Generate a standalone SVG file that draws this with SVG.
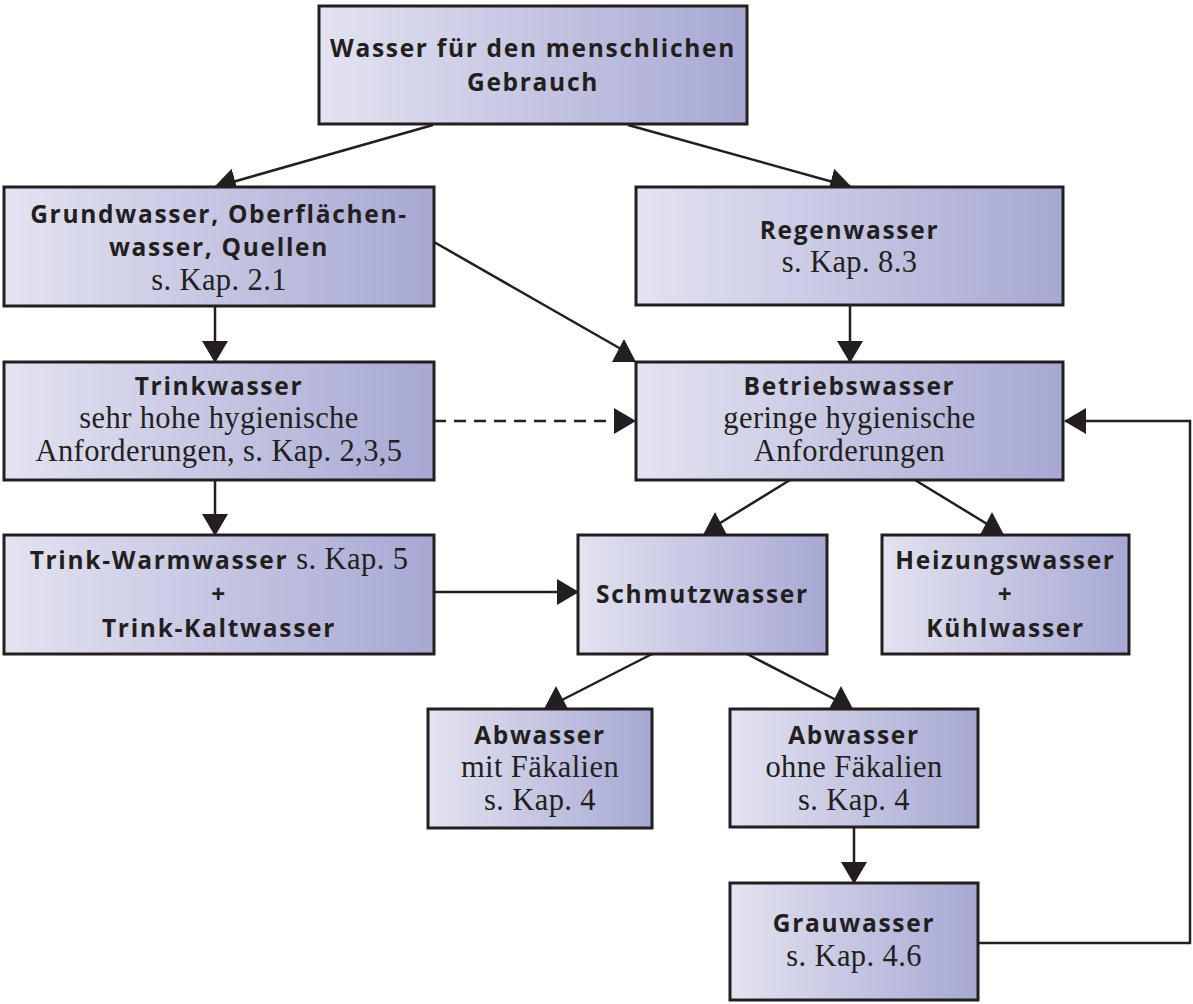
<svg xmlns="http://www.w3.org/2000/svg" xmlns:xlink="http://www.w3.org/1999/xlink" width="1193" height="1004" viewBox="0 0 1193 1004">
<style>
.box{fill:url(#g);stroke:#231f20;stroke-width:3}
.b{font-family:"Open Sans","Liberation Sans",sans-serif;font-weight:bold;font-size:24.5px;letter-spacing:1.7px;fill:#231f20;text-anchor:middle}
.s{font-family:"Liberation Serif",serif;font-weight:normal;font-size:30.5px;letter-spacing:0.4px;fill:#231f20;text-anchor:middle}
.c{fill:none;stroke:#231f20;stroke-width:2.5}
.d{stroke-dasharray:12 8}
.h{fill:#231f20}
</style>
<defs>
<linearGradient id="g" x1="0" y1="0" x2="1" y2="0">
<stop offset="0" stop-color="#e3e3f1"/>
<stop offset="1" stop-color="#a7a8d3"/>
</linearGradient>
<marker id="a" viewBox="0 0 22 26" refX="21" refY="13" markerWidth="22" markerHeight="26" markerUnits="userSpaceOnUse" orient="auto">
<path d="M0,0 L22,13 L0,26 Z" fill="#231f20"/>
</marker>
<path id="delta" d="M0,-23 L12,0 L-12,0 Z"/>
</defs>
<g id="connectors">
<line class="c" x1="433" y1="125" x2="215" y2="187" marker-end="url(#a)"/>
<line class="c" x1="628" y1="125" x2="851" y2="187" marker-end="url(#a)"/>
<line class="c" x1="434" y1="242" x2="621" y2="349"/>
<use class="h" xlink:href="#delta" x="624" y="362"/>
<line class="c" x1="215" y1="306" x2="215" y2="362" marker-end="url(#a)"/>
<line class="c" x1="850" y1="305" x2="850" y2="362" marker-end="url(#a)"/>
<line class="c d" x1="434" y1="421" x2="620" y2="421"/>
<path class="h" d="M614,408 L636,421 L614,434 Z"/>
<line class="c" x1="215" y1="480" x2="215" y2="535" marker-end="url(#a)"/>
<line class="c" x1="790" y1="480" x2="712" y2="528"/>
<use class="h" xlink:href="#delta" x="715" y="535"/>
<line class="c" x1="915" y1="480" x2="992" y2="527"/>
<use class="h" xlink:href="#delta" x="992" y="535"/>
<line class="c" x1="434" y1="592" x2="578" y2="592" marker-end="url(#a)"/>
<line class="c" x1="652" y1="654" x2="558" y2="702"/>
<use class="h" xlink:href="#delta" x="556" y="709"/>
<line class="c" x1="747" y1="654" x2="840" y2="702"/>
<use class="h" xlink:href="#delta" x="841" y="709"/>
<line class="c" x1="854" y1="827" x2="854" y2="883" marker-end="url(#a)"/>
<polyline class="c" points="978,943 1190,943 1190,421 1065,421" marker-end="url(#a)"/>
</g>
<g id="n-top">
<rect class="box" x="319" y="6" width="428" height="118"/>
<text class="b" x="533" y="57">Wasser für den menschlichen</text>
<text class="b" x="533" y="91">Gebrauch</text>
</g>
<g id="n-grund">
<rect class="box" x="4" y="187" width="430" height="119"/>
<text class="b" x="219" y="223">Grundwasser, Oberflächen-</text>
<text class="b" x="219" y="256">wasser, Quellen</text>
<text class="s" x="219" y="290">s. Kap. 2.1</text>
</g>
<g id="n-regen">
<rect class="box" x="636" y="187" width="427" height="118"/>
<text class="b" x="849.5" y="239">Regenwasser</text>
<text class="s" x="849.5" y="272">s. Kap. 8.3</text>
</g>
<g id="n-trink">
<rect class="box" x="4" y="362" width="430" height="118"/>
<text class="b" x="219" y="395">Trinkwasser</text>
<text class="s" x="219" y="428">sehr hohe hygienische</text>
<text class="s" x="219" y="461">Anforderungen, s. Kap. 2,3,5</text>
</g>
<g id="n-betrieb">
<rect class="box" x="636" y="362" width="427" height="118"/>
<text class="b" x="849.5" y="395">Betriebswasser</text>
<text class="s" x="849.5" y="428">geringe hygienische</text>
<text class="s" x="849.5" y="461">Anforderungen</text>
</g>
<g id="n-tww">
<rect class="box" x="4" y="535" width="430" height="119"/>
<text class="b" x="219" y="569">Trink-Warmwasser <tspan class="s" style="text-anchor:start">s. Kap. 5</tspan></text>
<text class="b" x="219" y="603">+</text>
<text class="b" x="219" y="637">Trink-Kaltwasser</text>
</g>
<g id="n-schmutz">
<rect class="box" x="578" y="535" width="249" height="119"/>
<text class="b" x="702.5" y="603">Schmutzwasser</text>
</g>
<g id="n-heiz">
<rect class="box" x="882" y="535" width="247" height="119"/>
<text class="b" x="1005.5" y="569">Heizungswasser</text>
<text class="b" x="1005.5" y="603">+</text>
<text class="b" x="1005.5" y="637">Kühlwasser</text>
</g>
<g id="n-abw-mit">
<rect class="box" x="428" y="709" width="224" height="119"/>
<text class="b" x="540" y="744">Abwasser</text>
<text class="s" x="540" y="777">mit Fäkalien</text>
<text class="s" x="540" y="810">s. Kap. 4</text>
</g>
<g id="n-abw-ohne">
<rect class="box" x="730" y="709" width="248" height="118"/>
<text class="b" x="854" y="744">Abwasser</text>
<text class="s" x="854" y="777">ohne Fäkalien</text>
<text class="s" x="854" y="810">s. Kap. 4</text>
</g>
<g id="n-grau">
<rect class="box" x="730" y="883" width="248" height="117"/>
<text class="b" x="854" y="932">Grauwasser</text>
<text class="s" x="854" y="966">s. Kap. 4.6</text>
</g>
</svg>
